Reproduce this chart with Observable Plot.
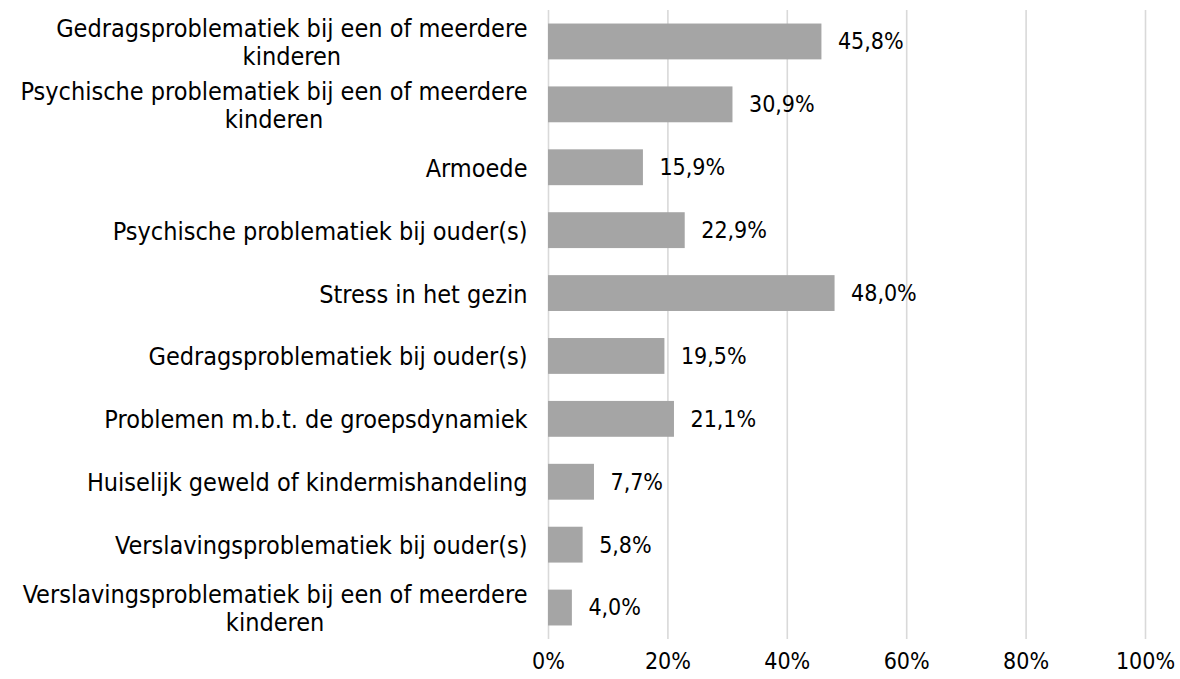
<!DOCTYPE html>
<html>
<head>
<meta charset="utf-8">
<script src="https://cdn.jsdelivr.net/npm/d3@7"></script>
<script src="https://cdn.jsdelivr.net/npm/@observablehq/plot@0.6"></script>
<style>
  html, body { margin: 0; padding: 0; background: #fff; }
  #chart svg { display: block; }
</style>
</head>
<body>
<div id="chart"></div>
<script>
const categories = [
  "Gedragsproblematiek bij een of meerdere kinderen",
  "Psychische problematiek bij een of meerdere kinderen",
  "Armoede",
  "Psychische problematiek bij ouder(s)",
  "Stress in het gezin",
  "Gedragsproblematiek bij ouder(s)",
  "Problemen m.b.t. de groepsdynamiek",
  "Huiselijk geweld of kindermishandeling",
  "Verslavingsproblematiek bij ouder(s)",
  "Verslavingsproblematiek bij een of meerdere kinderen"
];
const values = [45.8, 30.9, 15.9, 22.9, 48.0, 19.5, 21.1, 7.7, 5.8, 4.0];
const xTicks = [0, 20, 40, 60, 80, 100];

const data = categories.map((c, i) => ({category: c, value: values[i]}));

function wrap(s, max = 43) {
  const words = s.split(" ");
  const lines = [];
  let cur = "";
  for (const w of words) {
    const t = cur ? cur + " " + w : w;
    if (t.length > max && cur) { lines.push(cur); cur = w; } else cur = t;
  }
  lines.push(cur);
  return lines.join("\n");
}
const fmt = v => v.toFixed(1).replace(".", ",") + "%";

const FONT = "'DejaVu Sans Condensed', 'DejaVu Sans', sans-serif";

const chart = Plot.plot({
  width: 1180,
  height: 679,
  marginLeft: 548,
  marginRight: 35,
  marginTop: 10,
  marginBottom: 40,
  style: {fontFamily: FONT, fontSize: "25px", color: "#000", background: "#fff"},
  x: {domain: [0, 100], label: null},
  y: {domain: categories, label: null, paddingInner: 0.43, paddingOuter: 0.215, round: false},
  marks: [
    Plot.gridX(xTicks, {stroke: "#d9d9d9", strokeOpacity: 1, strokeWidth: 1.6}),
    Plot.barX(data, {x: "value", y: "category", fill: "#a5a5a5"}),
    Plot.text(data, {x: "value", y: "category", text: d => fmt(d.value), textAnchor: "start", dx: 16, fill: "#000", fontSize: 23}),
    Plot.axisX({ticks: xTicks, tickFormat: d => d + "%", tickSize: 0, tickPadding: 13, fontSize: 23, label: null}),
    Plot.axisY({tickSize: 0, tickPadding: 21, tickFormat: d => wrap(d), fontSize: 25, lineHeight: 1.12, label: null})
  ]
});

document.getElementById("chart").appendChild(chart);

// center continuation lines of wrapped y labels under the first line
chart.querySelectorAll("g[aria-label='y-axis tick label'] text").forEach(t => {
  const spans = t.querySelectorAll("tspan");
  if (spans.length > 1) {
    const w1 = spans[0].getComputedTextLength();
    for (let i = 1; i < spans.length; i++) {
      const wi = spans[i].getComputedTextLength();
      spans[i].setAttribute("x", -(w1 - wi) / 2);
    }
  }
});
</script>
</body>
</html>
